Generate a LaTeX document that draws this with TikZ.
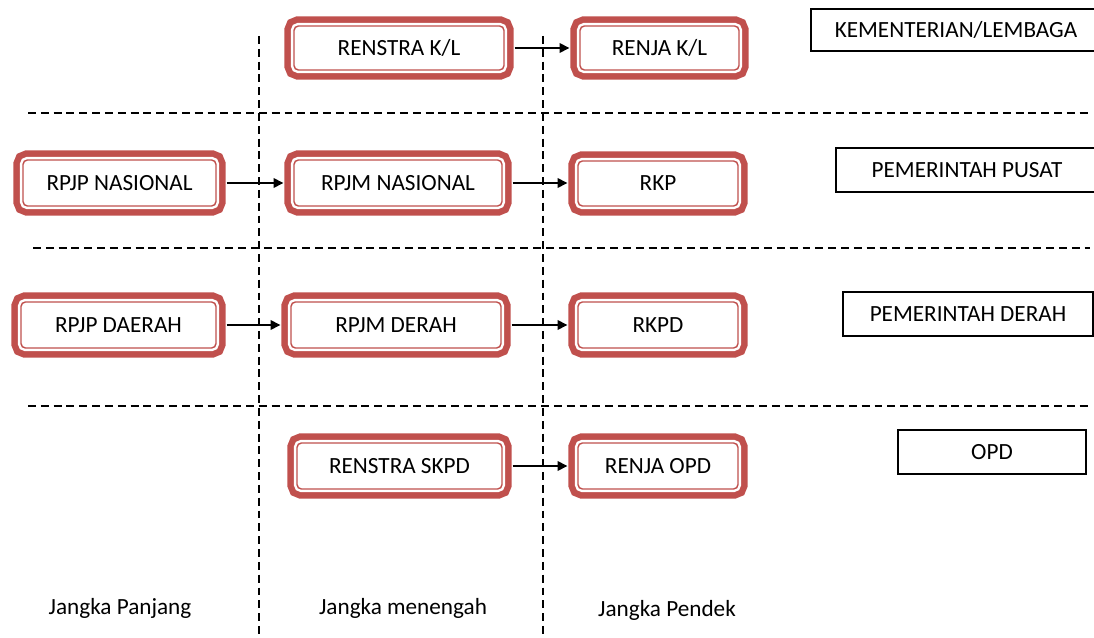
\documentclass[tikz,border=0pt]{standalone}
\usepackage{fontspec}
\setmainfont{Carlito}
\usetikzlibrary{arrows.meta}
\definecolor{planred}{RGB}{192,80,77}

\begin{document}
\begin{tikzpicture}[x=0.02cm, y=-0.02cm, font=\fontsize{13.2}{15}\selectfont,
		planbox/.style={draw=planred, line width=0.8pt, fill=white, rounded corners=2.5pt,
			minimum height=0.88cm, inner sep=0pt,
			preaction={draw=planred, line width=11pt},
			preaction={draw=white, line width=3.6pt}},
		levelbox/.style={draw=black, line width=1.1pt, minimum height=0.84cm, inner sep=0pt},
		sep/.style={dash pattern=on 4.5pt off 2.8pt, line width=0.85pt},
		flow/.style={-{Triangle[length=5.5pt,width=5.5pt]}, line width=0.8pt, shorten <=5.7pt, shorten >=5.7pt}]
	\useasboundingbox (0,0) rectangle (1094,638);

	% separators
	\draw[sep] (28,113) -- (1090,113);
	\draw[sep] (33,248) -- (1090,248);
	\draw[sep] (28,406) -- (1090,406);
	\draw[sep] (259,36) -- (259,638);
	\draw[sep] (543,36) -- (543,638);

	% Kementerian/Lembaga
	\node[planbox, minimum width=4.2cm] (renstrakl) at (399,48) {RENSTRA K/L};
	\node[planbox, minimum width=3.18cm] (renjakl) at (659.5,48) {RENJA K/L};
	\node[levelbox, minimum width=5.8cm] (kl) at (956,30) {KEMENTERIAN/LEMBAGA};

	% Pemerintah pusat
	\node[planbox, minimum width=3.86cm, minimum height=0.92cm] (rpjpnas) at (119.5,183) {RPJP NASIONAL};
	\node[planbox, minimum width=4.16cm, minimum height=0.92cm] (rpjmnas) at (398,183) {RPJM NASIONAL};
	\node[planbox, minimum width=3.2cm, minimum height=0.9cm] (rkp) at (658,183.5) {RKP};
	\node[levelbox, minimum width=5.24cm, minimum height=0.88cm] (pusat) at (967,170) {PEMERINTAH PUSAT};

	% Pemerintah daerah
	\node[planbox, minimum width=3.9cm, minimum height=0.92cm] (rpjpdae) at (118.5,325) {RPJP DAERAH};
	\node[planbox, minimum width=4.2cm, minimum height=0.92cm] (rpjmdae) at (396,325) {RPJM DERAH};
	\node[planbox, minimum width=3.2cm, minimum height=0.92cm] (rkpd) at (658,325) {RKPD};
	\node[levelbox, minimum width=5cm, minimum height=0.88cm] (daerah) at (968,314) {PEMERINTAH DERAH};

	% OPD
	\node[planbox, minimum width=4.1cm, minimum height=0.92cm] (renstraskpd) at (399.5,466) {RENSTRA SKPD};
	\node[planbox, minimum width=3.2cm, minimum height=0.92cm] (renjaopd) at (658,466) {RENJA OPD};
	\node[levelbox, minimum width=3.76cm, minimum height=0.88cm] (opd) at (992,452) {OPD};

	% arrows
	\draw[flow] (renstrakl) -- (renjakl);
	\draw[flow] (rpjpnas) -- (rpjmnas);
	\draw[flow] (rpjmnas.east) -- (rpjmnas.east -| rkp.west);
	\draw[flow] (rpjpdae) -- (rpjmdae);
	\draw[flow] (rpjmdae) -- (rkpd);
	\draw[flow] (renstraskpd) -- (renjaopd);

	% time frames
	\node (panjang) at (120,608) {Jangka Panjang};
	\node (menengah) at (403,608) {Jangka menengah};
	\node (pendek) at (667,610) {Jangka Pendek};
\end{tikzpicture}
\end{document}
